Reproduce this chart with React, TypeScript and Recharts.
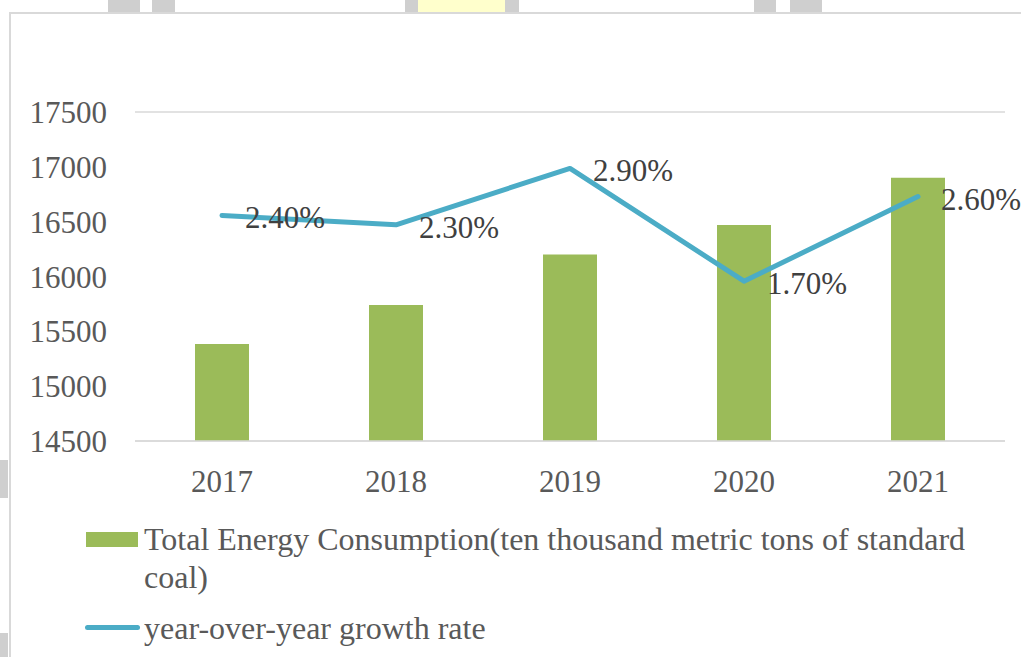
import React from 'react';
import { ComposedChart, Bar, Line, XAxis, YAxis, CartesianGrid, Legend, LabelList } from 'recharts';

const years = ['2017', '2018', '2019', '2020', '2021'];
const consumption = [15385, 15740, 16200, 16470, 16900];
const growthRate = [2.4, 2.3, 2.9, 1.7, 2.6];
const yTicks = [14500, 15000, 15500, 16000, 16500, 17000, 17500];
const barName = 'Total Energy Consumption(ten thousand metric tons of standard coal)';
const lineName = 'year-over-year growth rate';

const data = years.map((y, i) => ({ year: y, consumption: consumption[i], growth: growthRate[i] }));

const FONT = '"Liberation Serif", "Times New Roman", serif';

const renderGrowthLabel = (props: any) => {
  const { x, y, value } = props;
  return (
    <text x={x + 23} y={y + 13} fill="#404040" fontSize={31} fontFamily={FONT} textAnchor="start">
      {`${Number(value).toFixed(2)}%`}
    </text>
  );
};

const renderLegend = (props: any) => {
  const payload = props.payload || [];
  const barItem = payload.find((p: any) => p.dataKey === 'consumption');
  const lineItem = payload.find((p: any) => p.dataKey === 'growth');
  return (
    <div style={{ position: 'relative', width: 1021, height: 0, fontFamily: FONT, fontSize: 32, color: '#595959' }}>
      <div style={{ position: 'absolute', left: 86, top: 12, width: 52, height: 15, background: barItem ? barItem.color : '#9BBB59' }} />
      <div style={{ position: 'absolute', left: 144, top: 0, width: 860, lineHeight: '38px' }}>
        {barItem ? barItem.value : barName}
      </div>
      <div style={{ position: 'absolute', left: 85, top: 105, width: 55, height: 5, borderRadius: 3, background: lineItem ? lineItem.color : '#4BACC6' }} />
      <div style={{ position: 'absolute', left: 144, top: 89, lineHeight: '38px', whiteSpace: 'nowrap' }}>
        {lineItem ? lineItem.value : lineName}
      </div>
    </div>
  );
};

const grey = '#CFCFCF';

export default function App() {
  return (
    <div style={{ position: 'absolute', left: 0, top: 0, width: 1021, height: 657, background: '#FFFFFF', overflow: 'hidden' }}>
      <div style={{ position: 'absolute', left: 108, top: 0, width: 32, height: 12, background: grey }} />
      <div style={{ position: 'absolute', left: 152, top: 0, width: 23, height: 12, background: grey }} />
      <div style={{ position: 'absolute', left: 405, top: 0, width: 114, height: 12, background: grey }} />
      <div style={{ position: 'absolute', left: 418, top: 0, width: 87, height: 12, background: '#FFFFCC' }} />
      <div style={{ position: 'absolute', left: 754, top: 0, width: 22, height: 12, background: grey }} />
      <div style={{ position: 'absolute', left: 790, top: 0, width: 32, height: 12, background: grey }} />
      <div style={{ position: 'absolute', left: 0, top: 460, width: 8, height: 38, background: grey }} />
      <div style={{ position: 'absolute', left: 0, top: 633, width: 8, height: 30, background: grey }} />
      <div style={{ position: 'absolute', left: 9, top: 12, width: 1100, height: 700, border: '2px solid #D9D9D9', background: '#FFFFFF' }} />
      <div style={{ position: 'absolute', left: 0, top: 0 }}>
        <ComposedChart
          width={1021}
          height={657}
          data={data}
          margin={{ top: 112, right: 16, bottom: 156, left: 0 }}
          style={{ fontFamily: FONT }}
        >
          <CartesianGrid horizontal vertical={false} stroke="#D9D9D9" strokeWidth={1.5} />
          <XAxis
            dataKey="year"
            height={60}
            tickSize={0}
            tickMargin={29}
            axisLine={{ stroke: '#D9D9D9', strokeWidth: 1.5 }}
            tickLine={false}
            tick={{ fill: '#595959', fontSize: 31, fontFamily: FONT }}
          />
          <YAxis
            yAxisId="left"
            width={135}
            domain={[14500, 17500]}
            ticks={yTicks}
            interval={0}
            tickSize={0}
            tickMargin={28}
            axisLine={false}
            tickLine={false}
            tick={{ fill: '#595959', fontSize: 31, fontFamily: FONT }}
          />
          <YAxis yAxisId="right" orientation="right" hide domain={[0, 3.5]} />
          <Bar
            yAxisId="left"
            dataKey="consumption"
            name={barName}
            fill="#9BBB59"
            barSize={54}
            isAnimationActive={false}
          />
          <Line
            yAxisId="right"
            type="linear"
            dataKey="growth"
            name={lineName}
            stroke="#4BACC6"
            strokeWidth={5}
            strokeLinecap="round"
            strokeLinejoin="round"
            dot={false}
            activeDot={false}
            isAnimationActive={false}
          >
            <LabelList dataKey="growth" content={renderGrowthLabel} />
          </Line>
          <Legend
            verticalAlign="bottom"
            content={renderLegend}
            wrapperStyle={{ position: 'absolute', left: 0, top: 520, width: 1021, height: 0 }}
          />
        </ComposedChart>
      </div>
    </div>
  );
}
